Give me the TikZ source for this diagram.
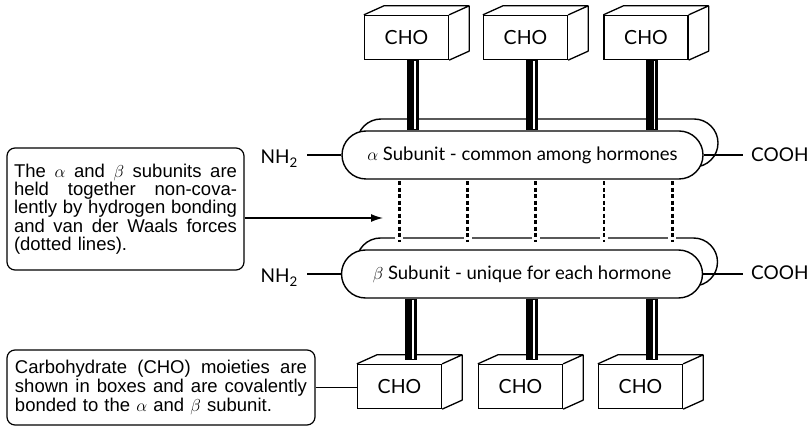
\documentclass[tikz,border=0pt]{standalone}
\usepackage{fontspec}
\setmainfont{Lato}
\newfontfamily\notefont{Liberation Sans}
\usetikzlibrary{arrows.meta,calc,shadows}
\tikzset{
    band/.style = {draw, fill=white, line width=1.4pt, rectangle, rounded corners=24pt, minimum width=361pt, minimum height=48pt, inner sep=0pt, font=\fontsize{18.5}{20}\selectfont,
        copy shadow={shadow xshift=15pt, shadow yshift=12pt, draw=black, fill=white, line width=1.4pt}},
    cho-box/.style = {draw, fill=white, line width=1.3pt, rectangle, minimum width=84pt, minimum height=44pt, inner sep=0pt, font=\fontsize{19.5}{22}\selectfont},
    end-label/.style = {font=\fontsize{19}{21}\selectfont, inner sep=0pt},
    note-box/.style = {draw, line width=1.2pt, rounded corners=8pt, align=left, inner xsep=7pt, font=\notefont\fontsize{18.5}{18.3}\selectfont},
    stalk/.style = {line width=12pt},
    stalk-shine/.style = {white, line width=1.6pt, shorten <=1pt, shorten >=1pt},
    h-bond/.style = {line width=2.7pt, dash pattern=on 4pt off 2.5pt, preaction={draw=white, solid, line width=8pt}},
    link/.style = {line width=1.3pt},
}
\begin{document}
\begin{tikzpicture}[x=1pt, y=-1pt]
\useasboundingbox (0,0) rectangle (812,427);

\node[band] (alpha) at (522.5,155) {$\alpha$ Subunit - common among hormones};
\node[band] (beta) at (522,274) {$\beta$ Subunit - unique for each hormone};

\node[cho-box] (t1) at (406.5,37.5) {CHO};
\node[cho-box] (t2) at (525.5,37.5) {CHO};
\node[cho-box] (t3) at (646,37.5) {CHO};
\node[cho-box] (b1) at (399.5,386.5) {CHO};
\node[cho-box] (b2) at (520.5,386.5) {CHO};
\node[cho-box] (b3) at (640.5,386.5) {CHO};

\node[end-label, anchor=east] (nh2-alpha) at (298,159) {NH\textsubscript{2}};
\node[end-label, anchor=east] (nh2-beta) at (298,278) {NH\textsubscript{2}};
\node[end-label, anchor=west] (cooh-alpha) at (751,155) {COOH};
\node[end-label, anchor=west] (cooh-beta) at (751,273) {COOH};

\node[note-box, text width=223pt, minimum height=122pt] (note-bond) at (125.5,209) {\makebox[223pt][s]{The\hfill$\alpha$\hfill and\hfill$\beta$\hfill subunits\hfill are}\\
    \makebox[223pt][s]{held\hfill together\hfill non-cova-}\\
    \makebox[223pt][s]{lently\hfill by\hfill hydrogen\hfill bonding}\\
    \makebox[223pt][s]{and\hfill van\hfill der\hfill Waals\hfill forces}\\
    (dotted lines).};
\node[note-box, text width=292pt, inner xsep=8pt, minimum height=75pt, font=\notefont\fontsize{18.5}{19}\selectfont] (note-cho) at (161,387.5) {\makebox[292pt][s]{Carbohydrate\hfill (CHO)\hfill moieties\hfill are}\\
    \makebox[292pt][s]{shown\hfill in\hfill boxes\hfill and\hfill are\hfill covalently}\\
    bonded to the $\alpha$ and $\beta$ subunit.};

\foreach \b in {t1,t2,t3,b1,b2,b3}
    \draw[link, line join=round] (\b.north west) -- ++(20,-9) -- ($(\b.north east)+(20,-9)$) -- ($(\b.south east)+(20,-9)$) -- (\b.south east)
        (\b.north east) -- ++(20,-9);

\foreach \b in {t1,t2,t3}{
    \draw[stalk] ([xshift=6pt]\b.south) -- ([xshift=6pt]\b.south |- alpha.north);
    \draw[stalk-shine] ([xshift=8.5pt]\b.south) -- ([xshift=8.5pt]\b.south |- alpha.north);
}
\foreach \b in {b1,b2,b3}{
    \draw[stalk] ([xshift=11pt]\b.north |- beta.south) -- ($(\b.north)+(11,-4)$);
    \draw[stalk-shine] ([xshift=13.5pt]\b.north |- beta.south) -- ($(\b.north)+(13.5,-4)$);
}

\foreach \i in {0,...,4}
    \draw[h-bond] ($(alpha.south west)+(58+68.25*\i,1.5)$) -- ($(beta.north west)+(58.5+68.25*\i,-7)$);

\draw[link] ([xshift=9pt]nh2-alpha.east |- alpha.west) -- (alpha.west);
\draw[link] ([xshift=9pt]nh2-beta.east |- beta.west) -- (beta.west);
\draw[link] (alpha.east) -- ([xshift=-8pt]cooh-alpha.west |- alpha.east);
\draw[link] (beta.east) -- ([xshift=-8pt]cooh-beta.west |- beta.east);

\coordinate (bond-gap) at (383,218);
\draw[link, -{Latex[length=12pt,width=8pt]}] (note-bond.east |- bond-gap) -- (bond-gap);
\draw[link] (note-cho.east) -- (note-cho.east -| b1.west);
\end{tikzpicture}
\end{document}
